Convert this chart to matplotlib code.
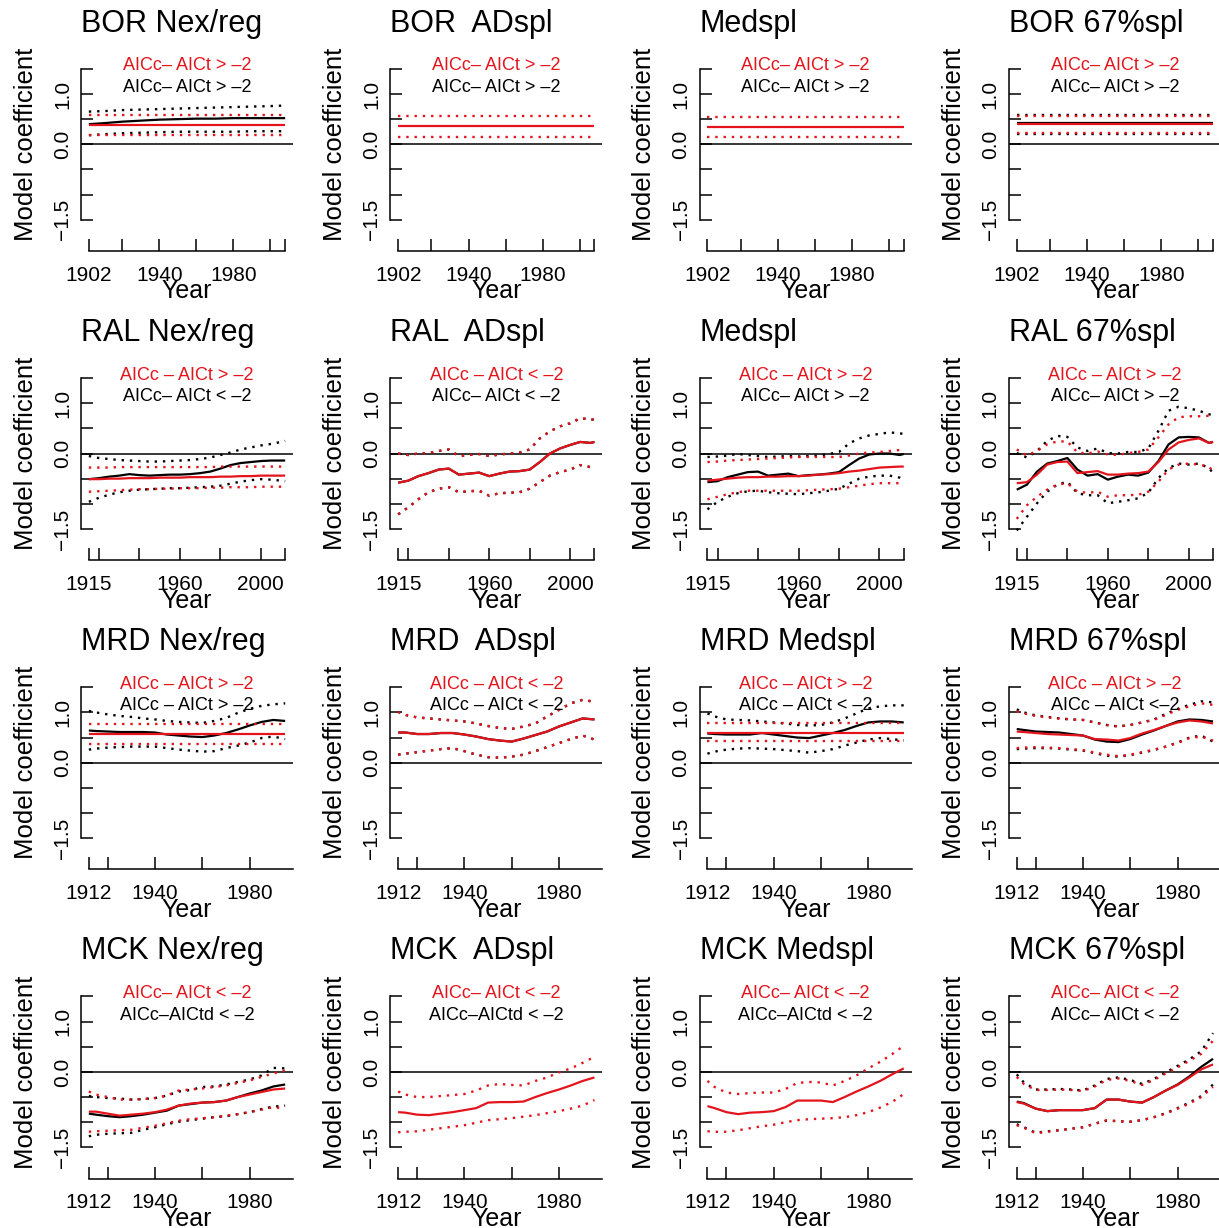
import matplotlib
matplotlib.use("Agg")
import matplotlib.pyplot as plt
from matplotlib.transforms import blended_transform_factory

plt.rcParams['font.family'] = ['Liberation Sans', 'DejaVu Sans']

# ---------------------------------------------------------------- years
BOR_YEARS = [1902, 1910, 1920, 1930, 1940, 1950, 1960, 1970, 1980, 1990, 2000, 2008]
RAL_YEARS = [1915, 1920, 1925, 1930, 1935, 1940, 1945, 1950, 1955, 1960, 1965,
             1970, 1975, 1980, 1985, 1990, 1995, 2000, 2005, 2010, 2012]
MRD_YEARS = [1912, 1915, 1920, 1925, 1930, 1935, 1940, 1945, 1950, 1955, 1960,
             1965, 1970, 1975, 1980, 1985, 1990, 1995]
MCK_YEARS = MRD_YEARS

BOR_TICKS = [1902, 1920, 1940, 1960, 1980, 2000, 2008]
BOR_TICK_LABELS = ['1902', '', '1940', '', '1980', '', '']
RAL_TICKS = [1915, 1920, 1940, 1960, 1980, 2000, 2012]
RAL_TICK_LABELS = ['1915', '', '', '1960', '', '2000', '']
MRD_TICKS = [1912, 1920, 1940, 1960, 1980, 2000]
MRD_TICK_LABELS = ['1912', '', '1940', '', '1980', '']

Y_TICKS = [-1.5, -1.0, -0.5, 0.0, 0.5, 1.0, 1.5]
Y_TICK_LABELS = ['\u22121.5', '', '', '0.0', '', '1.0', '']

# ------------------------------------------------- coefficient series
# each series: (estimate, lower bound, upper bound)
BOR_NEX_RED = ([0.38, 0.38, 0.38, 0.38, 0.38, 0.38, 0.38, 0.38, 0.38, 0.38, 0.38, 0.38],
               [0.18, 0.18, 0.18, 0.18, 0.18, 0.18, 0.18, 0.18, 0.18, 0.18, 0.18, 0.18],
               [0.58, 0.58, 0.58, 0.58, 0.58, 0.58, 0.58, 0.58, 0.58, 0.58, 0.58, 0.58])
BOR_NEX_BLK = ([0.40, 0.42, 0.45, 0.47, 0.49, 0.50, 0.51, 0.51, 0.52, 0.52, 0.52, 0.52],
               [0.18, 0.20, 0.22, 0.23, 0.24, 0.25, 0.25, 0.25, 0.25, 0.26, 0.26, 0.26],
               [0.65, 0.66, 0.68, 0.69, 0.70, 0.71, 0.72, 0.73, 0.74, 0.75, 0.76, 0.77])
BOR_AD_RED = ([0.36, 0.36, 0.36, 0.36, 0.36, 0.36, 0.36, 0.36, 0.36, 0.36, 0.36, 0.36],
              [0.15, 0.15, 0.15, 0.15, 0.15, 0.15, 0.15, 0.15, 0.15, 0.15, 0.15, 0.15],
              [0.56, 0.56, 0.56, 0.56, 0.56, 0.56, 0.56, 0.56, 0.56, 0.56, 0.56, 0.56])
BOR_MED_RED = ([0.35, 0.35, 0.35, 0.35, 0.35, 0.35, 0.35, 0.35, 0.35, 0.35, 0.35, 0.35],
               [0.14, 0.14, 0.14, 0.14, 0.14, 0.14, 0.14, 0.14, 0.14, 0.14, 0.14, 0.14],
               [0.54, 0.54, 0.54, 0.54, 0.54, 0.54, 0.54, 0.54, 0.54, 0.54, 0.54, 0.54])
BOR_67_RED = ([0.40, 0.40, 0.40, 0.40, 0.40, 0.40, 0.40, 0.40, 0.40, 0.40, 0.40, 0.40],
              [0.22, 0.22, 0.22, 0.22, 0.22, 0.22, 0.22, 0.22, 0.22, 0.22, 0.22, 0.22],
              [0.56, 0.56, 0.56, 0.56, 0.56, 0.56, 0.56, 0.56, 0.56, 0.56, 0.56, 0.56])
BOR_67_BLK = ([0.42, 0.42, 0.42, 0.42, 0.42, 0.42, 0.42, 0.42, 0.42, 0.42, 0.42, 0.42],
              [0.20, 0.20, 0.20, 0.20, 0.20, 0.20, 0.20, 0.20, 0.20, 0.20, 0.20, 0.20],
              [0.58, 0.58, 0.58, 0.58, 0.58, 0.58, 0.58, 0.58, 0.58, 0.58, 0.58, 0.58])

RAL_NEX_RED = ([-0.51, -0.51, -0.50, -0.50, -0.49, -0.49, -0.49, -0.48, -0.48, -0.48, -0.47,
                -0.47, -0.47, -0.46, -0.46, -0.45, -0.45, -0.44, -0.44, -0.44, -0.44],
               [-0.76, -0.75, -0.74, -0.73, -0.72, -0.71, -0.71, -0.70, -0.70, -0.69, -0.69,
                -0.69, -0.68, -0.68, -0.67, -0.67, -0.67, -0.66, -0.66, -0.66, -0.66],
               [-0.28, -0.28, -0.28, -0.27, -0.27, -0.27, -0.27, -0.27, -0.27, -0.27, -0.27,
                -0.27, -0.27, -0.26, -0.26, -0.26, -0.26, -0.26, -0.26, -0.26, -0.26])
RAL_NEX_BLK = ([-0.51, -0.49, -0.46, -0.44, -0.41, -0.43, -0.44, -0.43, -0.42, -0.42, -0.41,
                -0.39, -0.36, -0.30, -0.23, -0.19, -0.17, -0.15, -0.14, -0.14, -0.14],
               [-0.96, -0.88, -0.82, -0.77, -0.74, -0.72, -0.71, -0.70, -0.69, -0.69, -0.68,
                -0.67, -0.66, -0.64, -0.60, -0.56, -0.53, -0.51, -0.52, -0.54, -0.55],
               [-0.05, -0.09, -0.11, -0.13, -0.14, -0.15, -0.16, -0.16, -0.15, -0.14, -0.13,
                -0.11, -0.08, -0.03, 0.02, 0.08, 0.12, 0.16, 0.19, 0.23, 0.25])
RAL_AD_RED = ([-0.58, -0.54, -0.45, -0.39, -0.32, -0.30, -0.42, -0.40, -0.38, -0.45, -0.40,
               -0.36, -0.35, -0.32, -0.17, 0.00, 0.10, 0.17, 0.23, 0.21, 0.23],
              [-1.21, -1.07, -0.91, -0.77, -0.70, -0.67, -0.77, -0.75, -0.74, -0.84, -0.79,
               -0.78, -0.77, -0.70, -0.57, -0.44, -0.37, -0.32, -0.23, -0.27, -0.32],
              [0.00, -0.03, 0.00, 0.01, 0.05, 0.08, -0.05, -0.03, -0.01, -0.05, -0.02,
               0.00, 0.02, 0.08, 0.30, 0.44, 0.54, 0.60, 0.70, 0.68, 0.67])
RAL_AD_BLK = RAL_AD_RED
RAL_MED_RED = ([-0.54, -0.52, -0.50, -0.48, -0.47, -0.47, -0.46, -0.46, -0.45, -0.45, -0.44,
                -0.42, -0.41, -0.39, -0.36, -0.34, -0.31, -0.28, -0.27, -0.26, -0.26],
               [-0.91, -0.86, -0.81, -0.77, -0.74, -0.74, -0.74, -0.74, -0.74, -0.74, -0.73,
                -0.72, -0.71, -0.70, -0.67, -0.64, -0.61, -0.59, -0.59, -0.59, -0.59],
               [-0.17, -0.16, -0.14, -0.13, -0.12, -0.11, -0.10, -0.09, -0.08, -0.07, -0.07,
                -0.07, -0.07, -0.07, -0.04, 0.00, 0.02, 0.03, 0.05, 0.07, 0.08])
RAL_MED_BLK = ([-0.57, -0.55, -0.47, -0.42, -0.37, -0.36, -0.44, -0.42, -0.40, -0.45, -0.43,
                -0.42, -0.40, -0.37, -0.23, -0.10, -0.02, 0.00, 0.00, -0.03, -0.01],
               [-1.11, -0.96, -0.86, -0.79, -0.75, -0.74, -0.77, -0.79, -0.80, -0.81, -0.79,
                -0.77, -0.74, -0.70, -0.60, -0.50, -0.46, -0.44, -0.44, -0.48, -0.52],
               [-0.07, -0.06, -0.04, -0.01, -0.03, -0.05, -0.07, -0.06, -0.05, -0.06, -0.05,
                -0.04, -0.01, 0.03, 0.20, 0.30, 0.36, 0.39, 0.42, 0.40, 0.39])
RAL_67_RED = ([-0.59, -0.57, -0.42, -0.22, -0.17, -0.16, -0.39, -0.37, -0.35, -0.42, -0.42,
               -0.40, -0.39, -0.36, -0.17, 0.08, 0.22, 0.27, 0.30, 0.21, 0.23],
              [-1.30, -1.03, -0.86, -0.72, -0.62, -0.59, -0.76, -0.78, -0.76, -0.86, -0.83,
               -0.83, -0.82, -0.76, -0.56, -0.32, -0.22, -0.20, -0.22, -0.26, -0.36],
              [0.08, -0.04, 0.05, 0.18, 0.24, 0.24, 0.02, 0.00, 0.04, -0.02, -0.03,
               0.01, 0.03, 0.08, 0.32, 0.58, 0.72, 0.74, 0.74, 0.75, 0.76])
RAL_67_BLK = ([-0.72, -0.62, -0.36, -0.20, -0.15, -0.09, -0.32, -0.44, -0.41, -0.52, -0.46,
               -0.42, -0.44, -0.38, -0.15, 0.18, 0.32, 0.33, 0.32, 0.21, 0.23],
              [-1.53, -1.26, -0.99, -0.76, -0.62, -0.56, -0.79, -0.83, -0.83, -0.99, -0.96,
               -0.93, -0.89, -0.78, -0.49, -0.29, -0.20, -0.22, -0.20, -0.29, -0.39],
              [0.01, -0.08, 0.05, 0.25, 0.35, 0.33, 0.12, 0.05, 0.10, 0.01, 0.00,
               0.03, 0.03, 0.10, 0.45, 0.85, 0.93, 0.90, 0.85, 0.78, 0.76])

MRD_NEX_RED = ([0.57, 0.57, 0.57, 0.57, 0.57, 0.57, 0.57, 0.57, 0.57, 0.57, 0.57, 0.57, 0.57,
                0.57, 0.57, 0.57, 0.57, 0.57],
               [0.38, 0.38, 0.38, 0.38, 0.38, 0.38, 0.38, 0.38, 0.38, 0.38, 0.38, 0.38, 0.38,
                0.38, 0.38, 0.38, 0.38, 0.38],
               [0.76, 0.76, 0.76, 0.76, 0.76, 0.76, 0.76, 0.76, 0.76, 0.76, 0.76, 0.76, 0.76,
                0.76, 0.76, 0.76, 0.76, 0.76])
MRD_NEX_BLK = ([0.64, 0.63, 0.62, 0.61, 0.61, 0.61, 0.60, 0.56, 0.54, 0.52, 0.51, 0.54, 0.59,
                0.66, 0.74, 0.81, 0.85, 0.83],
               [0.26, 0.28, 0.30, 0.31, 0.32, 0.32, 0.32, 0.29, 0.26, 0.24, 0.22, 0.23, 0.29,
                0.34, 0.40, 0.49, 0.52, 0.47],
               [1.03, 1.00, 0.96, 0.93, 0.91, 0.88, 0.86, 0.83, 0.81, 0.80, 0.79, 0.83, 0.89,
                0.99, 1.07, 1.13, 1.16, 1.18])
MRD_AD_RED = ([0.60, 0.60, 0.57, 0.57, 0.59, 0.59, 0.56, 0.52, 0.47, 0.44, 0.42, 0.48, 0.55,
               0.62, 0.72, 0.80, 0.88, 0.86],
              [0.16, 0.18, 0.21, 0.24, 0.27, 0.29, 0.23, 0.16, 0.11, 0.10, 0.12, 0.16, 0.23,
               0.31, 0.39, 0.47, 0.54, 0.46],
              [1.01, 0.95, 0.90, 0.88, 0.86, 0.84, 0.82, 0.78, 0.73, 0.69, 0.67, 0.72, 0.78,
               0.92, 1.05, 1.18, 1.25, 1.21])
MRD_AD_BLK = MRD_AD_RED
MRD_MED_RED = ([0.60, 0.60, 0.60, 0.60, 0.60, 0.60, 0.60, 0.60, 0.60, 0.60, 0.60, 0.60, 0.60,
                0.60, 0.60, 0.60, 0.60, 0.60],
               [0.44, 0.44, 0.44, 0.44, 0.44, 0.44, 0.44, 0.44, 0.44, 0.44, 0.44, 0.44, 0.44,
                0.44, 0.44, 0.44, 0.44, 0.44],
               [0.78, 0.78, 0.78, 0.78, 0.78, 0.78, 0.78, 0.78, 0.78, 0.78, 0.78, 0.78, 0.78,
                0.78, 0.78, 0.78, 0.78, 0.78])
MRD_MED_BLK = ([0.58, 0.57, 0.56, 0.56, 0.56, 0.59, 0.56, 0.53, 0.50, 0.49, 0.54, 0.59, 0.65,
                0.73, 0.80, 0.82, 0.82, 0.80],
               [0.18, 0.22, 0.26, 0.28, 0.29, 0.28, 0.27, 0.25, 0.23, 0.20, 0.23, 0.27, 0.34,
                0.40, 0.46, 0.49, 0.47, 0.44],
               [0.98, 0.92, 0.86, 0.85, 0.84, 0.82, 0.80, 0.78, 0.75, 0.74, 0.75, 0.80, 0.88,
                0.98, 1.08, 1.12, 1.14, 1.14])
MRD_67_RED = ([0.62, 0.61, 0.59, 0.57, 0.56, 0.55, 0.54, 0.47, 0.46, 0.44, 0.49, 0.58, 0.65,
               0.73, 0.80, 0.84, 0.82, 0.78],
              [0.29, 0.30, 0.31, 0.30, 0.29, 0.27, 0.25, 0.20, 0.16, 0.13, 0.16, 0.21, 0.26,
               0.32, 0.39, 0.49, 0.52, 0.44],
              [1.02, 0.98, 0.93, 0.90, 0.88, 0.86, 0.85, 0.80, 0.75, 0.72, 0.75, 0.80, 0.85,
               0.95, 1.05, 1.12, 1.18, 1.15])
MRD_67_BLK = ([0.67, 0.65, 0.62, 0.61, 0.60, 0.57, 0.54, 0.46, 0.42, 0.41, 0.47, 0.56, 0.64,
               0.73, 0.82, 0.86, 0.85, 0.82],
              [0.27, 0.28, 0.29, 0.29, 0.28, 0.26, 0.24, 0.19, 0.14, 0.12, 0.15, 0.20, 0.25,
               0.32, 0.40, 0.50, 0.54, 0.42],
              [1.06, 1.00, 0.94, 0.91, 0.88, 0.86, 0.85, 0.80, 0.75, 0.72, 0.75, 0.80, 0.86,
               0.97, 1.07, 1.15, 1.22, 1.20])

MCK_NEX_RED = ([-0.79, -0.79, -0.83, -0.87, -0.85, -0.83, -0.80, -0.75, -0.67, -0.63, -0.61,
                -0.60, -0.57, -0.50, -0.45, -0.40, -0.35, -0.33],
               [-1.19, -1.18, -1.17, -1.16, -1.15, -1.11, -1.07, -1.02, -0.97, -0.94, -0.92,
                -0.90, -0.87, -0.84, -0.80, -0.75, -0.70, -0.73],
               [-0.39, -0.45, -0.50, -0.55, -0.55, -0.54, -0.52, -0.47, -0.37, -0.35, -0.33,
                -0.30, -0.27, -0.22, -0.17, -0.10, -0.03, 0.03])
MCK_NEX_BLK = ([-0.83, -0.85, -0.88, -0.90, -0.88, -0.85, -0.81, -0.77, -0.67, -0.64, -0.61,
                -0.60, -0.57, -0.50, -0.43, -0.37, -0.29, -0.25],
               [-1.28, -1.25, -1.23, -1.22, -1.21, -1.15, -1.10, -1.04, -0.99, -0.96, -0.93,
                -0.90, -0.88, -0.84, -0.80, -0.74, -0.69, -0.67],
               [-0.48, -0.50, -0.52, -0.53, -0.55, -0.54, -0.52, -0.47, -0.39, -0.36, -0.30,
                -0.29, -0.25, -0.20, -0.15, -0.07, 0.08, 0.07])
MCK_AD_RED = ([-0.80, -0.81, -0.85, -0.86, -0.83, -0.80, -0.76, -0.72, -0.61, -0.60, -0.60,
               -0.59, -0.50, -0.42, -0.35, -0.27, -0.18, -0.11],
              [-1.20, -1.19, -1.18, -1.15, -1.12, -1.09, -1.06, -1.01, -0.96, -0.94, -0.92,
               -0.89, -0.86, -0.82, -0.78, -0.73, -0.67, -0.56],
              [-0.39, -0.45, -0.50, -0.50, -0.48, -0.46, -0.44, -0.37, -0.27, -0.24, -0.26,
               -0.27, -0.18, -0.11, -0.01, 0.07, 0.18, 0.30])
MCK_MED_RED = ([-0.68, -0.72, -0.80, -0.84, -0.81, -0.80, -0.78, -0.70, -0.57, -0.57, -0.57,
                -0.60, -0.50, -0.39, -0.29, -0.18, -0.05, 0.07],
               [-1.18, -1.19, -1.19, -1.16, -1.12, -1.08, -1.05, -1.00, -0.96, -0.94, -0.93,
                -0.92, -0.90, -0.86, -0.80, -0.71, -0.60, -0.44],
               [-0.18, -0.30, -0.41, -0.44, -0.42, -0.41, -0.41, -0.34, -0.22, -0.20, -0.21,
                -0.27, -0.18, -0.07, 0.07, 0.20, 0.35, 0.52])
MCK_67_RED = ([-0.60, -0.63, -0.73, -0.78, -0.76, -0.76, -0.76, -0.72, -0.55, -0.55, -0.59,
               -0.61, -0.50, -0.37, -0.26, -0.11, 0.05, 0.15],
              [-1.06, -1.11, -1.22, -1.19, -1.16, -1.13, -1.10, -1.03, -0.96, -0.98, -0.99,
               -0.96, -0.90, -0.83, -0.73, -0.63, -0.50, -0.30],
              [-0.10, -0.24, -0.36, -0.36, -0.35, -0.36, -0.38, -0.29, -0.16, -0.13, -0.18,
               -0.26, -0.16, -0.03, 0.09, 0.22, 0.36, 0.62])
MCK_67_BLK = ([-0.59, -0.62, -0.73, -0.78, -0.76, -0.76, -0.76, -0.72, -0.55, -0.55, -0.59,
               -0.61, -0.50, -0.37, -0.25, -0.09, 0.10, 0.26],
              [-1.04, -1.10, -1.21, -1.18, -1.16, -1.13, -1.10, -1.03, -0.97, -0.98, -0.99,
               -0.96, -0.90, -0.82, -0.72, -0.61, -0.48, -0.25],
              [-0.05, -0.21, -0.35, -0.35, -0.34, -0.35, -0.37, -0.27, -0.14, -0.11, -0.16,
               -0.24, -0.14, -0.01, 0.12, 0.25, 0.41, 0.77])

# ------------------------------------------------------- panel texts
D = '\u2013'
GT_A = f'AICc{D} AICt > {D}2'
GT_B = f'AICc {D} AICt > {D}2'
LT_A = f'AICc{D} AICt < {D}2'
LT_B = f'AICc {D} AICt < {D}2'
LT_TD = f'AICc{D}AICtd < {D}2'

ROWS = [
    (BOR_YEARS, BOR_TICKS, BOR_TICK_LABELS, [
        ('BOR Nex/reg', GT_A, GT_A, BOR_NEX_RED, BOR_NEX_BLK),
        ('BOR  ADspl', GT_A, GT_A, BOR_AD_RED, None),
        ('Medspl', GT_A, GT_A, BOR_MED_RED, None),
        ('BOR 67%spl', GT_A, GT_A, BOR_67_RED, BOR_67_BLK)]),
    (RAL_YEARS, RAL_TICKS, RAL_TICK_LABELS, [
        ('RAL Nex/reg', GT_B, LT_A, RAL_NEX_RED, RAL_NEX_BLK),
        ('RAL  ADspl', LT_B, LT_A, RAL_AD_RED, RAL_AD_BLK),
        ('Medspl', GT_B, GT_A, RAL_MED_RED, RAL_MED_BLK),
        ('RAL 67%spl', GT_B, GT_A, RAL_67_RED, RAL_67_BLK)]),
    (MRD_YEARS, MRD_TICKS, MRD_TICK_LABELS, [
        ('MRD Nex/reg', GT_B, GT_B, MRD_NEX_RED, MRD_NEX_BLK),
        ('MRD  ADspl', LT_B, LT_B, MRD_AD_RED, MRD_AD_BLK),
        ('MRD Medspl', GT_B, LT_B, MRD_MED_RED, MRD_MED_BLK),
        ('MRD 67%spl', GT_B, f'AICc {D} AICt <{D}2', MRD_67_RED, MRD_67_BLK)]),
    (MCK_YEARS, MRD_TICKS, MRD_TICK_LABELS, [
        ('MCK Nex/reg', LT_A, LT_TD, MCK_NEX_RED, MCK_NEX_BLK),
        ('MCK  ADspl', LT_A, LT_TD, MCK_AD_RED, None),
        ('MCK Medspl', LT_A, LT_TD, MCK_MED_RED, None),
        ('MCK 67%spl', LT_A, LT_A, MCK_67_RED, MCK_67_BLK)]),
]

# ------------------------------------------------------------ layout
W, H = 1219, 1228
RED = '#e3141c'
PX_PER_UNIT = 50.3
Y_LO, Y_HI = -2.12, 1.62
PLOT_W = 212
COL_STEP = 309.3
ROW_STEP = 309.2
LEFT0 = 81.0
ZERO0 = 144.3
DOTS = (0, (1, 2.5))

fig = plt.figure(figsize=(W / 100, H / 100), dpi=100)


def draw_band(ax, years, series, color):
    mid, lo, hi = series
    ax.plot(years, lo, color=color, lw=1.7, ls=DOTS)
    ax.plot(years, hi, color=color, lw=1.7, ls=DOTS)
    ax.plot(years, mid, color=color, lw=1.6, solid_capstyle='butt')


for r, (years, ticks, tick_labels, panels) in enumerate(ROWS):
    span = years[-1] - years[0]
    x0, x1 = years[0] - 0.04 * span, years[-1] + 0.04 * span
    zero_px = ZERO0 + r * ROW_STEP
    top_px = zero_px - Y_HI * PX_PER_UNIT
    height_px = (Y_HI - Y_LO) * PX_PER_UNIT
    keep = [i for i, t in enumerate(ticks) if x0 <= t <= x1]
    for c, (title, red_txt, blk_txt, red, blk) in enumerate(panels):
        left_px = LEFT0 + c * COL_STEP
        ax = fig.add_axes([left_px / W, 1 - (top_px + height_px) / H,
                           PLOT_W / W, height_px / H])
        ax.set_xlim(x0, x1)
        ax.set_ylim(Y_LO, Y_HI)
        ax.patch.set_visible(False)
        for side in ('top', 'right'):
            ax.spines[side].set_visible(False)
        for side in ('left', 'bottom'):
            ax.spines[side].set_linewidth(1.1)
        ax.spines['left'].set_bounds(-1.5, 1.5)
        ax.spines['bottom'].set_bounds(ticks[0], min(ticks[-1], x1))

        ax.set_yticks(Y_TICKS)
        ax.set_yticklabels(Y_TICK_LABELS, rotation=90, va='center')
        ax.set_xticks([ticks[i] for i in keep])
        ax.set_xticklabels([tick_labels[i] for i in keep])
        ax.tick_params(axis='both', direction='in', length=8.6, width=1.1,
                       labelsize=15)
        ax.tick_params(axis='x', pad=10.5)
        ax.tick_params(axis='y', pad=6.5)

        ax.axhline(0, color='black', lw=1.1)
        if blk is not None:
            draw_band(ax, years, blk, 'black')
        draw_band(ax, years, red, RED)

        xmid = 0.5 * (x0 + x1)
        ax.text(xmid, 1.56, red_txt, color=RED, fontsize=13,
                ha='center', va='center')
        ax.text(xmid, 1.13, blk_txt, color='black', fontsize=13,
                ha='center', va='center')

        trans = blended_transform_factory(ax.transAxes, ax.transData)
        ax.text(0.0, 112.6 / PX_PER_UNIT, title, transform=trans,
                fontsize=22, ha='left', va='baseline')
        ax.text(0.5, -154.0 / PX_PER_UNIT, 'Year', transform=trans,
                fontsize=18, ha='center', va='baseline')
        fig.text((left_px - 48.3) / W, 1 - zero_px / H, 'Model coefficient',
                 rotation=90, rotation_mode='anchor', ha='center',
                 va='baseline', fontsize=18.5)

fig.savefig('out.png', dpi=100)
